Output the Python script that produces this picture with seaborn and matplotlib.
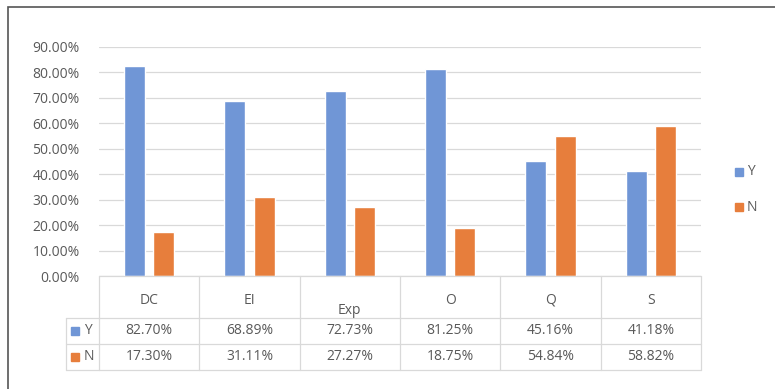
import numpy as np
import pandas as pd
import seaborn as sns
import matplotlib.pyplot as plt
from matplotlib.patches import Rectangle

# data
categories = ["DC", "EI", "Exp", "O", "Q", "S"]
series_names = ["Y", "N"]
y_vals = [82.70, 68.89, 72.73, 81.25, 45.16, 41.18]
n_vals = [17.30, 31.11, 27.27, 18.75, 54.84, 58.82]
y_ticks = [0, 10, 20, 30, 40, 50, 60, 70, 80, 90]

blue = "#7096D6"
orange = "#E77E3C"
txt = "#595959"
line_c = "#D9D9D9"

df = pd.DataFrame({
    "cat": categories * 2,
    "series": ["Y"] * len(categories) + ["N"] * len(categories),
    "val": y_vals + n_vals,
})

sns.set_style("white")
plt.rcParams["font.family"] = ["Open Sans", "DejaVu Sans"]

W, H = 775, 389
fig = plt.figure(figsize=(W / 100, H / 100), dpi=100)
left, right, top, bottom = 99, 701, 47, 276
ax = fig.add_axes([left / W, 1 - bottom / H, (right - left) / W, (bottom - top) / H])

sns.barplot(data=df, x="cat", y="val", hue="series", order=categories,
            hue_order=series_names, palette=[blue, orange], width=0.58,
            gap=0.276, ax=ax, legend=False, saturation=1)

ax.set_xlim(-0.5, len(categories) - 0.5)
ax.set_ylim(0, 90)
ax.set_yticks(y_ticks)
ax.set_yticklabels([f"{t:.2f}%" for t in y_ticks], color=txt, fontsize=10)
ax.tick_params(axis="y", length=0, pad=14)
ax.set_xticks([])
ax.set_xlabel("")
ax.set_ylabel("")
for s in ax.spines.values():
    s.set_visible(False)
ax.yaxis.grid(True, color=line_c, lw=0.9)
ax.set_axisbelow(True)

# data table under the axis
tr = ax.get_xaxis_transform()
h = bottom - top
row_y = [-(318 - bottom) / h, -(344 - bottom) / h, -(370 - bottom) / h]
key_left = -0.5 + (66 - left) / ((right - left) / len(categories))
kw = dict(transform=tr, clip_on=False, color=line_c, lw=0.9)
ax.plot([-0.5, len(categories) - 0.5], [0, 0], **kw)
for yy in row_y:
    ax.plot([key_left, len(categories) - 0.5], [yy, yy], **kw)
for i in range(len(categories) + 1):
    ax.plot([i - 0.5, i - 0.5], [0, row_y[-1]], **kw)
ax.plot([key_left, key_left], [row_y[0], row_y[-1]], **kw)

for i, c in enumerate(categories):
    cy = -(310 - bottom) / h if c == "Exp" else -(300 - bottom) / h
    ax.text(i, cy, c, transform=tr, ha="center", va="center", color=txt, fontsize=10)
    ax.text(i, (row_y[0] + row_y[1]) / 2, f"{y_vals[i]:.2f}%", transform=tr,
            ha="center", va="center", color=txt, fontsize=10)
    ax.text(i, (row_y[1] + row_y[2]) / 2, f"{n_vals[i]:.2f}%", transform=tr,
            ha="center", va="center", color=txt, fontsize=10)

# legend keys inside table
unit = (right - left) / len(categories)
for name, col, (a, b) in zip(series_names, [blue, orange],
                             [(row_y[0], row_y[1]), (row_y[1], row_y[2])]):
    ym = (a + b) / 2
    ax.plot([-0.5 + (75 - left) / unit], [ym], marker="s", ms=6, color=col,
            transform=tr, clip_on=False)
    ax.text(-0.5 + (84 - left) / unit, ym, name, transform=tr, ha="left",
            va="center", color=txt, fontsize=10)

# right legend
for name, col, py in zip(series_names, [blue, orange], [172, 207]):
    fig.patches.append(Rectangle(((735) / W, 1 - (py + 4) / H), 8 / W, 8 / H,
                                 transform=fig.transFigure, color=col))
    fig.text(747 / W, 1 - py / H, name, ha="left", va="center", color=txt, fontsize=10)

# outer frame
fig.patches.append(Rectangle((8 / W, -0.1), 1.2, 1 - 7 / H + 0.1,
                             transform=fig.transFigure, fill=False,
                             edgecolor="#555555", lw=1.2))

fig.savefig("out.png", dpi=100)
